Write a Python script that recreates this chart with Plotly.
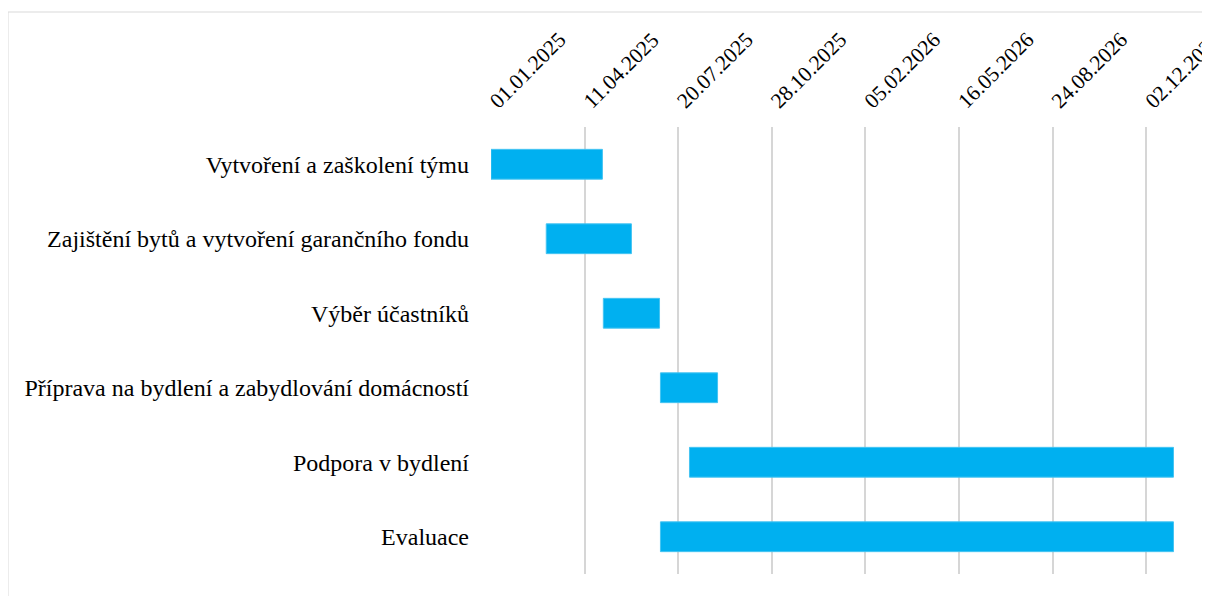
import pandas as pd
import plotly.graph_objects as go

tasks = [
    "Vytvoření a zaškolení týmu",
    "Zajištění bytů a vytvoření garančního fondu",
    "Výběr účastníků",
    "Příprava na bydlení a zabydlování domácností",
    "Podpora v bydlení",
    "Evaluace",
]
start_dates = ["2025-01-01", "2025-03-01", "2025-05-01", "2025-07-01", "2025-08-01", "2025-07-01"]
end_dates = ["2025-04-30", "2025-05-31", "2025-06-30", "2025-08-31", "2026-12-31", "2026-12-31"]

axis_start = "2025-01-01"
axis_end = "2027-02-08"
tick_step_days = 100

starts = pd.to_datetime(start_dates)
ends = pd.to_datetime(end_dates)
durations_ms = [(e - s).total_seconds() * 1000 for s, e in zip(starts, ends)]

fig = go.Figure()
fig.add_trace(go.Bar(
    y=tasks,
    x=durations_ms,
    base=start_dates,
    orientation="h",
    width=0.4,
    marker=dict(color="#00B0F0", line=dict(color="#45C4F2", width=1)),
    hoverinfo="skip",
))

FONT = "Liberation Serif, Times New Roman, serif"
# page body has an 8px margin, so figure coordinates are offset by 8px
OFF = 8
W, H = 1210 - OFF, 596 - OFF
L = 491 - OFF
T = 127 - OFF
BOT = 574 - OFF
pw = W - L
ph = BOT - T

fig.update_layout(
    width=W, height=H,
    margin=dict(l=L, r=0, t=T, b=H - BOT, autoexpand=False),
    paper_bgcolor="white",
    plot_bgcolor="white",
    showlegend=False,
    font=dict(family=FONT, size=24, color="black"),
    bargap=0.6,
)
fig.update_xaxes(
    type="date",
    side="top",
    range=[axis_start, axis_end],
    tick0=axis_start,
    dtick=tick_step_days * 86400000,
    tickformat="%d.%m.%Y",
    tickangle=-45,
    tickfont=dict(family=FONT, size=21.5, color="black"),
    showgrid=True,
    gridcolor="#D6D6D6",
    gridwidth=1.5,
    zeroline=False,
    showline=False,
    ticks="",
    automargin=False,
    ticklabelstandoff=9,
    ticklabeloverflow="allow",
)
fig.update_yaxes(
    autorange="reversed",
    showgrid=False,
    zeroline=False,
    showline=False,
    ticks="",
    ticklabelstandoff=21,
    tickfont=dict(family=FONT, size=24, color="black"),
    automargin=False,
)

# outer chart border
fig.add_shape(
    type="rect", xref="paper", yref="paper",
    x0=(0 - L) / pw, x1=1.3,
    y0=-0.2, y1=1 + (T - 4) / ph,
    line=dict(color="#D9D9D9", width=1),
    fillcolor="rgba(0,0,0,0)",
    layer="below",
)

fig.write_html("out.html")
